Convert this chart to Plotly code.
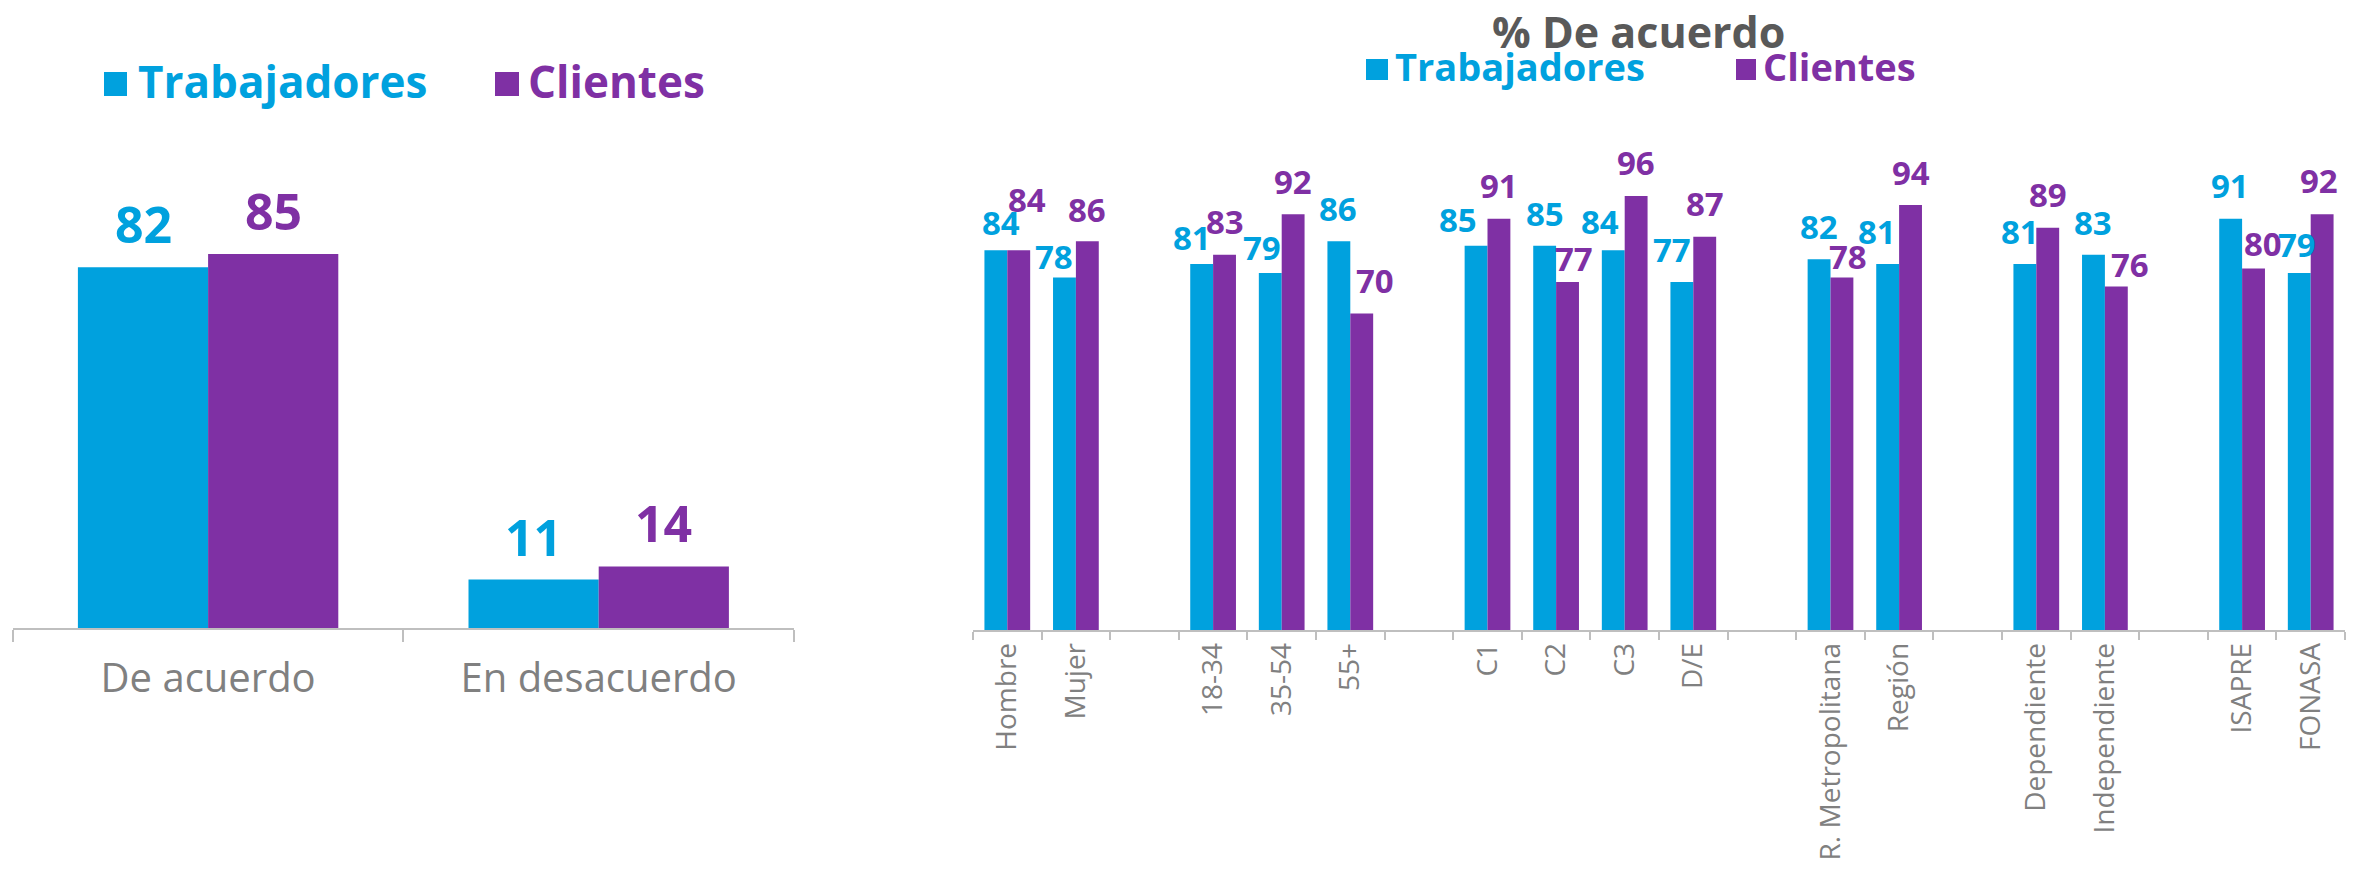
import plotly.graph_objects as go

# ---- data ----
summary_categories = ["De acuerdo", "En desacuerdo"]
summary_trabajadores = [82, 11]
summary_clientes = [85, 14]

# blank entries are the spacer columns between segment groups
segment_categories = [
    "Hombre", "Mujer", " ",
    "18-34", "35-54", "55+", "  ",
    "C1", "C2", "C3", "D/E", "   ",
    "R. Metropolitana", "Región", "    ",
    "Dependiente", "Independiente", "     ",
    "ISAPRE", "FONASA",
]
segment_trabajadores = [84, 78, None, 81, 79, 86, None, 85, 85, 84, 77, None,
                        82, 81, None, 81, 83, None, 91, 79]
segment_clientes = [84, 86, None, 83, 92, 70, None, 91, 77, 96, 87, None,
                    78, 94, None, 89, 76, None, 80, 92]

# ---- label placement nudges (pixels): horizontal shift, gap above bar ----
trab_dx = [5, -10, 0, -10, -8, -1, 0, -18, 0, -13, -10, 0, 0, -11, 0, -5, 0, 0, -1, -2]
trab_gap = [13, 6, 0, 12, 11, 18, 0, 12, 18, 14, 18, 0, 18, 18, 0, 18, 18, 0, 19, 14]
cli_dx = [8, 0, 0, 0, 0, 13, 0, 0, 6, 0, 0, 0, 6, 0, 0, 0, 14, 0, 9, -3]
cli_gap = [36, 17, 0, 19, 18, 19, 0, 19, 9, 19, 19, 0, 6, 18, 0, 19, 7, 0, 10, 19]

BLUE = "#00A1DE"
PURPLE = "#7F30A4"
GREY = "#808080"
AXIS = "#BFBFBF"
TITLE = "#595959"
FONT = "Open Sans"

W, H = 2359, 870
BARGAP = 1 / 3


def px(x):
    return x / W


def py(y):
    return 1 - y / H


fig = go.Figure()

fig.add_trace(go.Bar(x=summary_categories, y=summary_trabajadores, name="Trabajadores",
                     marker=dict(color=BLUE, line=dict(width=0)),
                     xaxis="x", yaxis="y", showlegend=False, hoverinfo="x+y"))
fig.add_trace(go.Bar(x=summary_categories, y=summary_clientes, name="Clientes",
                     marker=dict(color=PURPLE, line=dict(width=0)),
                     xaxis="x", yaxis="y", showlegend=False, hoverinfo="x+y"))
fig.add_trace(go.Bar(x=segment_categories, y=segment_trabajadores, name="Trabajadores",
                     marker=dict(color=BLUE, line=dict(width=0)),
                     xaxis="x2", yaxis="y2", showlegend=False, hoverinfo="x+y"))
fig.add_trace(go.Bar(x=segment_categories, y=segment_clientes, name="Clientes",
                     marker=dict(color=PURPLE, line=dict(width=0)),
                     xaxis="x2", yaxis="y2", showlegend=False, hoverinfo="x+y"))

annotations = []
bar_half = (1 - BARGAP) / 4  # centre offset of each bar within its category

# value labels, summary chart
for i, (t, c) in enumerate(zip(summary_trabajadores, summary_clientes)):
    for val, off, col in ((t, -bar_half, BLUE), (c, bar_half, PURPLE)):
        annotations.append(dict(
            x=i + off, y=val, xref="x", yref="y", text=str(val), showarrow=False,
            xanchor="center", yanchor="bottom", yshift=7,
            font=dict(family=FONT, size=50, color=col, weight=700)))

# value labels, segment chart
for i in range(len(segment_categories)):
    t = segment_trabajadores[i]
    c = segment_clientes[i]
    if t is not None:
        annotations.append(dict(
            x=i - bar_half, y=t, xref="x2", yref="y2", text=str(t), showarrow=False,
            xanchor="center", yanchor="bottom", xshift=trab_dx[i], yshift=trab_gap[i] - 10,
            font=dict(family=FONT, size=33, color=BLUE, weight=700)))
    if c is not None:
        annotations.append(dict(
            x=i + bar_half, y=c, xref="x2", yref="y2", text=str(c), showarrow=False,
            xanchor="center", yanchor="bottom", xshift=cli_dx[i], yshift=cli_gap[i] - 10,
            font=dict(family=FONT, size=33, color=PURPLE, weight=700)))

# title of the segment chart
annotations.append(dict(
    x=px(1638), y=py(0), xref="paper", yref="paper", text="% De acuerdo",
    showarrow=False, xanchor="center", yanchor="top",
    font=dict(family=FONT, size=43, color=TITLE, weight=700)))

# legends (square swatch + label)
shapes = []


def legend_item(x0, x1, y0, y1, text_x, text_y, label, color, size):
    shapes.append(dict(type="rect", xref="paper", yref="paper",
                       x0=px(x0), x1=px(x1), y0=py(y1), y1=py(y0),
                       fillcolor=color, line=dict(width=0)))
    annotations.append(dict(
        x=px(text_x), y=py(text_y), xref="paper", yref="paper", text=label,
        showarrow=False, xanchor="left", yanchor="middle",
        font=dict(family=FONT, size=size, color=color, weight=700)))


legend_item(104, 127, 72, 96, 136, 81, "Trabajadores", BLUE, 44)
legend_item(495, 519, 72, 96, 526, 81, "Clientes", PURPLE, 44)
legend_item(1366, 1388, 59, 80, 1393, 66, "Trabajadores", BLUE, 38)
legend_item(1736, 1756, 59, 80, 1761, 66, "Clientes", PURPLE, 38)

axis_common = dict(
    type="category", showline=True, linecolor=AXIS, linewidth=1.5,
    ticks="outside", tickcolor=AXIS, tickwidth=1.5, tickson="boundaries",
    showgrid=False, zeroline=False, fixedrange=True,
)

fig.update_layout(
    width=W, height=H,
    margin=dict(l=0, r=0, t=0, b=0),
    paper_bgcolor="white", plot_bgcolor="white",
    barmode="group", bargap=BARGAP, bargroupgap=0,
    font=dict(family=FONT, color=GREY),
    xaxis=dict(domain=[px(12.8), px(794)], anchor="y", ticklen=12, ticklabelstandoff=14,
               tickfont=dict(family=FONT, size=40, color=GREY), **axis_common),
    yaxis=dict(domain=[py(628), py(628 - 440)], range=[0, 100], visible=False,
               anchor="x", fixedrange=True),
    xaxis2=dict(domain=[px(973), px(2345)], anchor="y2", ticklen=8, tickangle=-90,
                tickfont=dict(family=FONT, size=28, color=GREY), **axis_common),
    yaxis2=dict(domain=[py(630), py(630 - 452)], range=[0, 100], visible=False,
                anchor="x2", fixedrange=True),
    annotations=annotations,
    shapes=shapes,
)

fig.write_html("out.html")
